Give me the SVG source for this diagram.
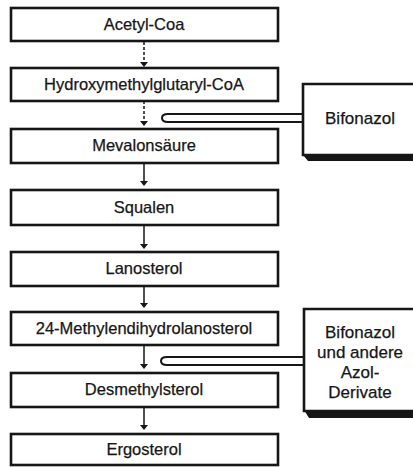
<svg xmlns="http://www.w3.org/2000/svg" width="413" height="467" viewBox="0 0 413 467">
<style>
.box{fill:#fff;stroke:#161616;stroke-width:2.6}
.t{font-family:"Liberation Sans",Arial,sans-serif;font-size:16.5px;fill:#161616;text-anchor:middle;stroke:#161616;stroke-width:0.25}
.b{font-size:17px}
.c{stroke:#161616;stroke-width:1.5;fill:none}
.inh{fill:#fff;stroke:#161616;stroke-width:2}
.ah{fill:#161616}
</style>
<g id="connectors">
<line class="c" x1="144" y1="42" x2="144" y2="64" stroke-dasharray="3,2"/>
<path class="ah" d="M140,62 L148,62 L144,67 Z"/>
<line class="c" x1="144" y1="101" x2="144" y2="123" stroke-dasharray="3,2"/>
<path class="ah" d="M140,121 L148,121 L144,126 Z"/>
<line class="c" x1="144" y1="163" x2="144" y2="183"/>
<path class="ah" d="M140,181 L148,181 L144,186 Z"/>
<line class="c" x1="144" y1="225" x2="144" y2="246"/>
<path class="ah" d="M140,244 L148,244 L144,249 Z"/>
<line class="c" x1="144" y1="286" x2="144" y2="305"/>
<path class="ah" d="M140,303 L148,303 L144,308 Z"/>
<line class="c" x1="144" y1="345" x2="144" y2="366"/>
<path class="ah" d="M140,364 L148,364 L144,369 Z"/>
<line class="c" x1="144" y1="407" x2="144" y2="427"/>
<path class="ah" d="M140,425 L148,425 L144,430 Z"/>
<path class="inh" d="M303,114 L168,114 Q162,114 162,118 Q162,122 168,122 L303,122"/>
<path class="inh" d="M304,357 L167,357 Q161,357 161,361 Q161,365 167,365 L304,365"/>
</g>
<g id="n1"><rect class="box" x="11" y="8" width="267" height="33"/><text class="t" x="144" y="30">Acetyl-Coa</text></g>
<g id="n2"><rect class="box" x="11" y="68" width="267" height="33"/><text class="t" x="144" y="90">Hydroxymethylglutaryl-CoA</text></g>
<g id="n3"><rect class="box" x="11" y="129" width="267" height="34"/><text class="t" x="144" y="151">Mevalonsäure</text></g>
<g id="n4"><rect class="box" x="11" y="190" width="267" height="35"/><text class="t" x="144" y="213">Squalen</text></g>
<g id="n5"><rect class="box" x="11" y="252" width="267" height="34"/><text class="t" x="144" y="274">Lanosterol</text></g>
<g id="n6"><rect class="box" x="11" y="312" width="267" height="33"/><text class="t" x="144" y="334">24-Methylendihydrolanosterol</text></g>
<g id="n7"><rect class="box" x="11" y="373" width="267" height="34"/><text class="t" x="144" y="395">Desmethylsterol</text></g>
<g id="n8"><rect class="box" x="11" y="434" width="267" height="31"/><text class="t" x="144" y="455">Ergosterol</text></g>
<g id="inh1">
<path d="M303,155 L308,161 L413,161 L413,155 Z" fill="#161616"/>
<path class="box" d="M414,84 L303,84 L303,155 L414,155"/>
<text class="t b" x="360" y="124">Bifonazol</text>
</g>
<g id="inh2">
<path d="M304,410 L309,418 L413,418 L413,410 Z" fill="#161616"/>
<path class="box" d="M414,309 L304,309 L304,411 L414,411"/>
<text class="t b" x="360" y="338">Bifonazol</text>
<text class="t b" x="360" y="358">und andere</text>
<text class="t b" x="360" y="378">Azol-</text>
<text class="t b" x="360" y="398">Derivate</text>
</g>
</svg>
